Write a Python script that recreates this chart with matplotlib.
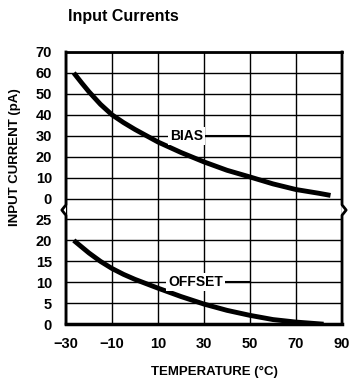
import matplotlib
matplotlib.use('Agg')
import matplotlib.pyplot as plt

bias_temp = [-26.6, -23, -20, -15, -10, -5, 0, 10, 20, 30, 40, 50, 60, 70, 80, 85]
bias_pa = [60, 55, 51, 45, 40, 36.3, 33, 27, 22, 17.5, 13.5, 10.3, 7, 4.3, 2.5, 1.5]
offset_temp = [-26.6, -20, -15, -10, -5, 0, 10, 20, 30, 40, 50, 60, 70, 82]
offset_pa = [20, 17, 15, 13.3, 11.9, 10.7, 8.6, 6.6, 4.8, 3.3, 2.1, 1.1, 0.5, 0]

x_ticks = [-30, -10, 10, 30, 50, 70, 90]
x_labels = ['\u221230', '\u221210', '10', '30', '50', '70', '90']
offset_ticks = [0, 5, 10, 15, 20, 25]
bias_ticks = [0, 10, 20, 30, 40, 50, 60, 70]

plt.rcParams['font.family'] = ['Liberation Sans', 'DejaVu Sans']
plt.rcParams['font.weight'] = 'bold'

# offset sits in grid rows 0-5, bias in rows 6-13
def off_y(v):
    return v / 5.0

def bias_y(v):
    return 6 + v / 10.0

fig = plt.figure(figsize=(3.49, 3.85), dpi=100)
ax = fig.add_axes([0.189, 0.158, 0.791, 0.707])

ax.set_xlim(-30, 90)
ax.set_ylim(0, 13)

for x in x_ticks:
    ax.axvline(x, color='black', lw=1.0, zorder=1)
for k in range(14):
    ax.axhline(k, color='black', lw=1.0, zorder=1)

ax.plot(bias_temp, [bias_y(v) for v in bias_pa], color='black', lw=3.5,
        solid_capstyle='butt', solid_joinstyle='round', zorder=3)
ax.plot(offset_temp, [off_y(v) for v in offset_pa], color='black', lw=3.5,
        solid_capstyle='butt', solid_joinstyle='round', zorder=3)

# curve labels with leader lines
ax.plot([26, 50], [bias_y(30), bias_y(30)], color='black', lw=1.5, zorder=2)
ax.text(22.5, bias_y(30), 'BIAS', ha='center', va='center', fontsize=10,
        fontweight='bold', zorder=4,
        bbox=dict(facecolor='white', edgecolor='none', pad=1.5))
ax.plot([31, 50], [off_y(10), off_y(10)], color='black', lw=1.5, zorder=2)
ax.text(26.5, off_y(10), 'OFFSET', ha='center', va='center', fontsize=10,
        fontweight='bold', zorder=4,
        bbox=dict(facecolor='white', edgecolor='none', pad=1.5))

# frame with break marks on left and right
ax.spines['left'].set_visible(False)
ax.spines['right'].set_visible(False)
ax.spines['top'].set_linewidth(2)
ax.spines['bottom'].set_linewidth(2.5)
for x0, d in [(-30, -1.8), (90, 1.8)]:
    ax.plot([x0, x0, x0 + d, x0, x0], [13, 5.7, 5.45, 5.2, 0],
            color='black', lw=2, clip_on=False, zorder=5)

ax.set_xticks(x_ticks)
ax.set_xticklabels(x_labels)
yt = [off_y(v) for v in offset_ticks] + [bias_y(v) for v in bias_ticks]
yl = [str(v) for v in offset_ticks] + [str(v) for v in bias_ticks]
ax.set_yticks(yt)
ax.set_yticklabels(yl)
ax.tick_params(length=0, labelsize=10.5, pad=10)
ax.tick_params(axis='x', pad=9)
for t in ax.get_xticklabels() + ax.get_yticklabels():
    t.set_fontweight('bold')

fig.text(0.615, 0.034, 'TEMPERATURE (\u00b0C)', ha='center', va='center',
         fontsize=9.5, fontweight='bold')
fig.text(0.043, 0.592, 'INPUT CURRENT (pA)', ha='center', va='center',
         rotation=90, fontsize=9.5, fontweight='bold')
fig.text(0.195, 0.957, 'Input Currents', ha='left', va='center',
         fontsize=11.5, fontweight='bold')

fig.savefig('out.png', dpi=100)
